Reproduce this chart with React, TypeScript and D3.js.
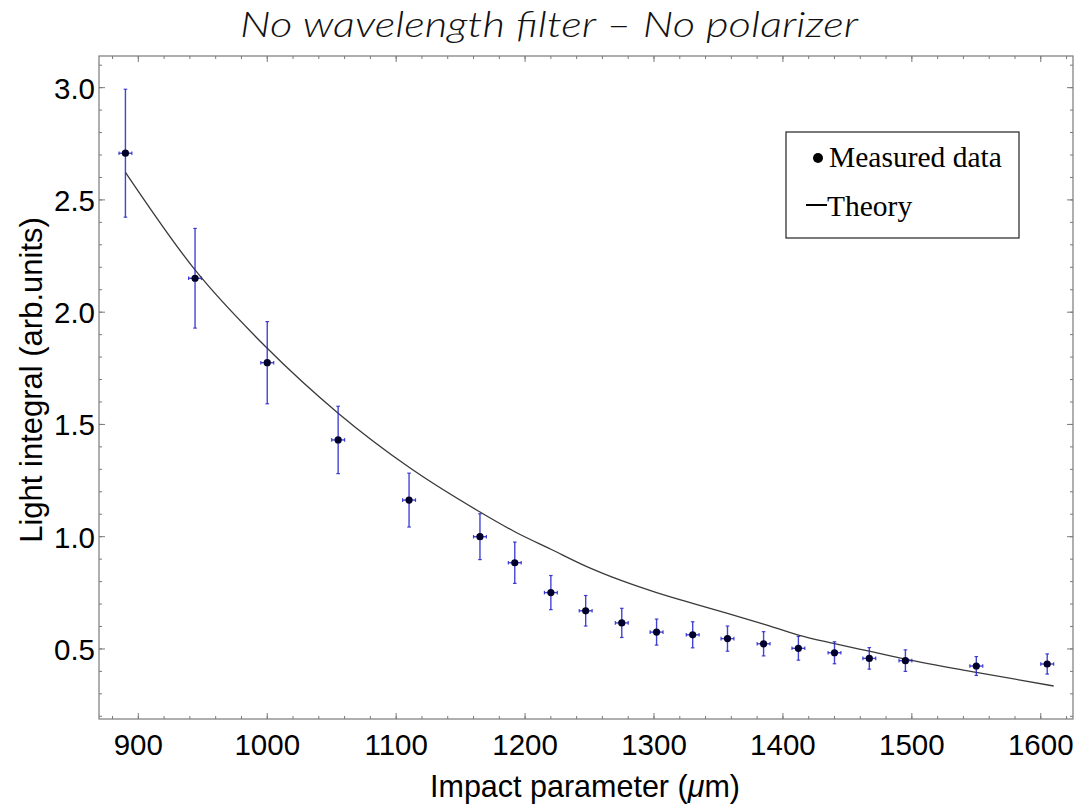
import React from "react";
import * as d3 from "d3";

const impactX = [890, 944, 1000, 1055, 1110, 1165, 1192, 1220, 1247, 1275, 1302, 1330, 1357, 1385, 1412, 1440, 1467, 1495, 1550, 1605];
const lightY = [2.708, 2.151, 1.775, 1.431, 1.163, 1.0, 0.884, 0.751, 0.67, 0.616, 0.575, 0.563, 0.546, 0.523, 0.503, 0.483, 0.458, 0.448, 0.424, 0.433];
const yErr = [0.285, 0.222, 0.183, 0.15, 0.12, 0.102, 0.092, 0.076, 0.068, 0.065, 0.058, 0.058, 0.056, 0.054, 0.053, 0.049, 0.048, 0.048, 0.042, 0.045];
const xErr = [5, 5, 5, 5, 5, 5, 5, 5, 5, 5, 5, 5, 5, 5, 5, 5, 5, 5, 5, 5];

const theoryX = [890, 944, 1000, 1055, 1110, 1165, 1192, 1220, 1247, 1275, 1302, 1330, 1357, 1385, 1412, 1440, 1467, 1495, 1550, 1610];
const theoryY = [2.623, 2.188, 1.839, 1.55, 1.309, 1.11, 1.022, 0.944, 0.869, 0.804, 0.751, 0.703, 0.659, 0.611, 0.562, 0.524, 0.49, 0.455, 0.396, 0.335];

const xMajor = [900, 1000, 1100, 1200, 1300, 1400, 1500, 1600];
const xMinor = d3.range(880, 1621, 20);
const yMajor = [0.5, 1.0, 1.5, 2.0, 2.5, 3.0];
const yMinor = d3.range(2, 32, 1).map((v) => v / 10);

const title = "No wavelength filter \u2013 No polarizer";
const xLabel = "Impact parameter (";
const yLabel = "Light integral (arb.units)";
const legendItems = ["Measured data", "Theory"];

export default function App() {
  const L = 99, R = 1073, T = 56, B = 719;
  const x = d3.scaleLinear().domain([869.5, 1625]).range([L, R]);
  const y = d3.scaleLinear().domain([0.188, 3.141]).range([B, T]);
  const line = d3
    .line<number>()
    .x((_, i) => x(theoryX[i]))
    .y((d) => y(d))
    .curve(d3.curveMonotoneX);
  const frame = "#7a7a7a";
  const errC = "rgba(35,35,205,0.85)";
  const tickFont = "Liberation Sans, Arial, sans-serif";
  const serif = "Liberation Serif, 'Times New Roman', serif";

  return (
    <svg width={1077} height={807} style={{ position: "absolute", left: 0, top: 0, background: "#fff" }}>
      <rect x={0} y={0} width={1077} height={807} fill="#fff" />
      <text x={240} y={37} textLength={618} lengthAdjust="spacingAndGlyphs" fontFamily="Lato, 'Open Sans', sans-serif" fontStyle="italic" fontWeight={300} fontSize={36} fill="#111">
        {title}
      </text>
      {/* frame */}
      <rect x={L} y={T} width={R - L} height={B - T} fill="none" stroke={frame} strokeWidth={1.2} />
      {/* x ticks */}
      {xMinor.map((v) => (
        <g key={"xm" + v}>
          <line x1={x(v)} x2={x(v)} y1={B} y2={B - 3} stroke={frame} />
          <line x1={x(v)} x2={x(v)} y1={T} y2={T + 3} stroke={frame} />
        </g>
      ))}
      {xMajor.map((v) => (
        <g key={"xM" + v}>
          <line x1={x(v)} x2={x(v)} y1={B} y2={B - 6} stroke={frame} />
          <line x1={x(v)} x2={x(v)} y1={T} y2={T + 6} stroke={frame} />
          <text x={x(v)} y={755} textAnchor="middle" fontFamily={tickFont} fontSize={29.5} fill="#000">
            {v}
          </text>
        </g>
      ))}
      {/* y ticks */}
      {yMinor.map((v) => (
        <g key={"ym" + v}>
          <line x1={L} x2={L + 3} y1={y(v)} y2={y(v)} stroke={frame} />
          <line x1={R} x2={R - 3} y1={y(v)} y2={y(v)} stroke={frame} />
        </g>
      ))}
      {yMajor.map((v) => (
        <g key={"yM" + v}>
          <line x1={L} x2={L + 6} y1={y(v)} y2={y(v)} stroke={frame} />
          <line x1={R} x2={R - 6} y1={y(v)} y2={y(v)} stroke={frame} />
          <text x={95} y={y(v) + 11} textAnchor="end" fontFamily={tickFont} fontSize={29.5} fill="#000">
            {v.toFixed(1)}
          </text>
        </g>
      ))}
      {/* axis labels */}
      <text x={585} y={797} textAnchor="middle" fontFamily={tickFont} fontSize={30.5} fill="#000">
        {xLabel}
        <tspan fontStyle="italic">{"\u03bc"}</tspan>
        {"m)"}
      </text>
      <text transform={`translate(42,${380}) rotate(-90)`} textAnchor="middle" fontFamily={tickFont} fontSize={31} fill="#000">
        {yLabel}
      </text>
      {/* theory curve */}
      <path d={line(theoryY) || ""} fill="none" stroke="#3a3a3a" strokeWidth={1.3} />
      {/* data with error bars */}
      {impactX.map((xv, i) => {
        const cx = x(xv), cy = y(lightY[i]);
        const y1 = y(lightY[i] + yErr[i]), y2 = y(lightY[i] - yErr[i]);
        const x1 = x(xv - xErr[i]), x2 = x(xv + xErr[i]);
        return (
          <g key={"p" + i}>
            <line x1={cx} x2={cx} y1={y1} y2={y2} stroke={errC} strokeWidth={1.4} />
            <line x1={cx - 1.8} x2={cx + 1.8} y1={y1} y2={y1} stroke={errC} strokeWidth={1.2} />
            <line x1={cx - 1.8} x2={cx + 1.8} y1={y2} y2={y2} stroke={errC} strokeWidth={1.2} />
            <line x1={x1} x2={x2} y1={cy} y2={cy} stroke={errC} strokeWidth={1.4} />
            <line x1={x1} x2={x1} y1={cy - 1.8} y2={cy + 1.8} stroke={errC} strokeWidth={1.2} />
            <line x1={x2} x2={x2} y1={cy - 1.8} y2={cy + 1.8} stroke={errC} strokeWidth={1.2} />
            <circle cx={cx} cy={cy} r={3.6} fill="#00002a" />
          </g>
        );
      })}
      {/* legend */}
      <rect x={786} y={132} width={233} height={106} fill="#fff" stroke="#222" strokeWidth={1.2} />
      <circle cx={818} cy={158} r={5} fill="#000" />
      <text x={829} y={167} fontFamily={serif} fontSize={29.5} fill="#000">
        {legendItems[0]}
      </text>
      <line x1={806} x2={827} y1={205} y2={205} stroke="#000" strokeWidth={2} />
      <text x={827} y={216} fontFamily={serif} fontSize={29.5} fill="#000">
        {legendItems[1]}
      </text>
    </svg>
  );
}
